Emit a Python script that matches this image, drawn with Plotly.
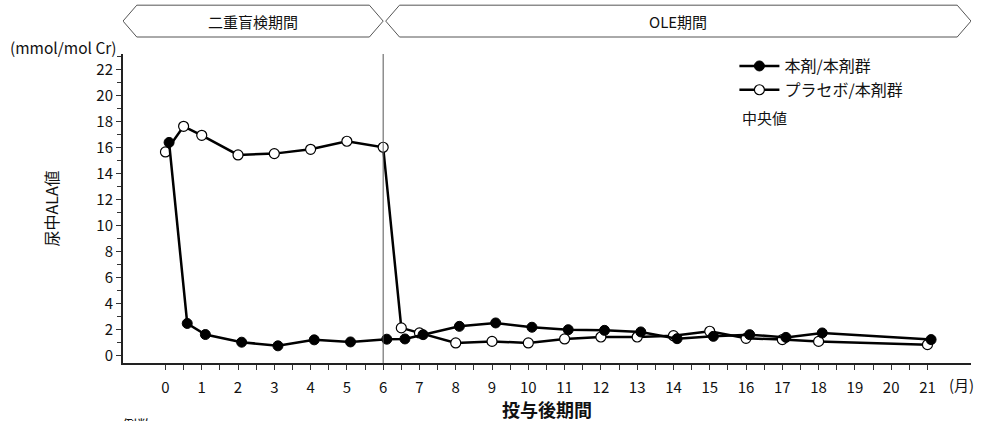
import plotly.graph_objects as go

# ---- data ----
months = [0, 0.5, 1, 2, 3, 4, 5, 6, 6.5, 7, 8, 9, 10, 11, 12, 13, 14, 15, 16, 17, 18, 21]
active_active = [16.4, 2.48, 1.63, 1.04, 0.76, 1.22, 1.06, 1.27, 1.29, 1.62, 2.26, 2.52,
                 2.19, 2.0, 1.95, 1.83, 1.31, 1.49, 1.62, 1.41, 1.75, 1.24]
placebo_active = [15.67, 17.64, 16.95, 15.44, 15.54, 15.87, 16.49, 16.03, 2.14, 1.75, 0.98, 1.1,
                  0.98, 1.29, 1.44, 1.44, 1.54, 1.88, 1.34, 1.24, 1.1, 0.85]
series_names = ["本剤/本剤群", "プラセボ/本剤群"]
x_tick_labels = [str(i) for i in range(0, 22)]
y_tick_vals = list(range(0, 23, 2))
periods = [("二重盲検期間", -1.17, 6.0), ("OLE期間", 6.0, 22.2)]
ole_start = 6

FONT = "Noto Sans CJK JP"
dodge = 0.1  # small horizontal offset of the filled series

fig = go.Figure()
fig.add_trace(go.Scatter(
    x=months, y=placebo_active, name=series_names[1], mode="lines+markers",
    line=dict(color="black", width=2.5),
    marker=dict(symbol="circle", size=10, color="white", line=dict(color="black", width=1.2)),
))
fig.add_trace(go.Scatter(
    x=[m + dodge for m in months], y=active_active, name=series_names[0], mode="lines+markers",
    line=dict(color="black", width=2.5),
    marker=dict(symbol="circle", size=10, color="black", line=dict(color="black", width=1)),
))

# vertical line at start of OLE
fig.add_shape(type="line", xref="x", yref="paper", x0=ole_start, x1=ole_start, y0=0, y1=1,
              line=dict(color="#555", width=1))

# period banners
yb0, yb1 = 1.055, 1.158
ym = (yb0 + yb1) / 2
for i, (label, a, b) in enumerate(periods):
    notch = 0.38
    a0 = a if i == 0 else a + 0.07
    b0 = b
    path = (f"M {a0},{ym} L {a0+notch},{yb1} L {b0-notch},{yb1} L {b0},{ym} "
            f"L {b0-notch},{yb0} L {a0+notch},{yb0} Z")
    fig.add_shape(type="path", xref="x", yref="paper", path=path,
                  line=dict(color="#555", width=1), fillcolor="white", layer="above")
    fig.add_annotation(x=(a0 + b0) / 2, y=ym, xref="x", yref="paper", text=label,
                       xanchor="center", yanchor="middle",
                       showarrow=False, font=dict(size=15, color="#111", family=FONT))

ann_font = dict(family=FONT, color="#111")
fig.add_annotation(x=-0.1356, y=1.023, xref="paper", yref="paper", text="(mmol/mol Cr)",
                   xanchor="left", yanchor="middle", showarrow=False, font=dict(size=15.5, **ann_font))
fig.add_annotation(x=-0.086, y=0.5, xref="paper", yref="paper", text="尿中ALA値", textangle=-90,
                   xanchor="center", yanchor="middle",
                   showarrow=False, font=dict(size=16, **ann_font))
fig.add_annotation(x=0.5, y=-0.148, xref="paper", yref="paper", text="<b>投与後期間</b>",
                   xanchor="center", yanchor="middle",
                   showarrow=False, font=dict(size=18, **ann_font))
fig.add_annotation(x=21.95, y=-0.068, xref="x", yref="paper", text="(月)",
                   xanchor="center", yanchor="middle",
                   showarrow=False, font=dict(size=15, **ann_font))
fig.add_annotation(x=0.7276, y=0.796, xref="paper", yref="paper", text="中央値",
                   xanchor="left", yanchor="middle", showarrow=False, font=dict(size=15, **ann_font))
fig.add_annotation(x=-0.004, y=-0.158, xref="paper", yref="paper", text="例数",
                   xanchor="left", yanchor="top", showarrow=False, font=dict(size=15, **ann_font))

fig.update_layout(
    width=982, height=421,
    margin=dict(l=123, r=11, t=54, b=58),
    paper_bgcolor="white", plot_bgcolor="white",
    font=dict(family=FONT, size=15, color="#111"),
    showlegend=True,
    legend=dict(x=0.721, y=1.016, xanchor="left", yanchor="top", traceorder="reversed",
                font=dict(size=16, family=FONT), bgcolor="rgba(0,0,0,0)", itemwidth=40,
                tracegroupgap=0),
    xaxis=dict(range=[-1.17, 22.2], tickmode="array", tickvals=list(range(0, 22)),
               ticktext=x_tick_labels, ticks="outside", ticklen=5, tickwidth=1, tickcolor="#333",
               showline=True, linecolor="#222", linewidth=2, showgrid=False, zeroline=False,
               ticklabelstandoff=5,
               minor=dict(tickmode="array", tickvals=[i + 0.5 for i in range(0, 21)],
                          ticks="outside", ticklen=5, tickwidth=1, tickcolor="#333")),
    yaxis=dict(range=[-0.56, 23.2], tickmode="array", tickvals=y_tick_vals,
               ticks="outside", ticklen=5, tickwidth=1, tickcolor="#333",
               showline=True, linecolor="#222", linewidth=2, showgrid=False, zeroline=False,
               minor=dict(dtick=1, tick0=0, ticks="outside", ticklen=4, tickwidth=1, tickcolor="#333")),
)

fig.write_html("out.html", config={"displayModeBar": False},
               post_script="document.body.style.margin='0';document.body.style.padding='0';"
                           "document.body.style.overflow='hidden';")
